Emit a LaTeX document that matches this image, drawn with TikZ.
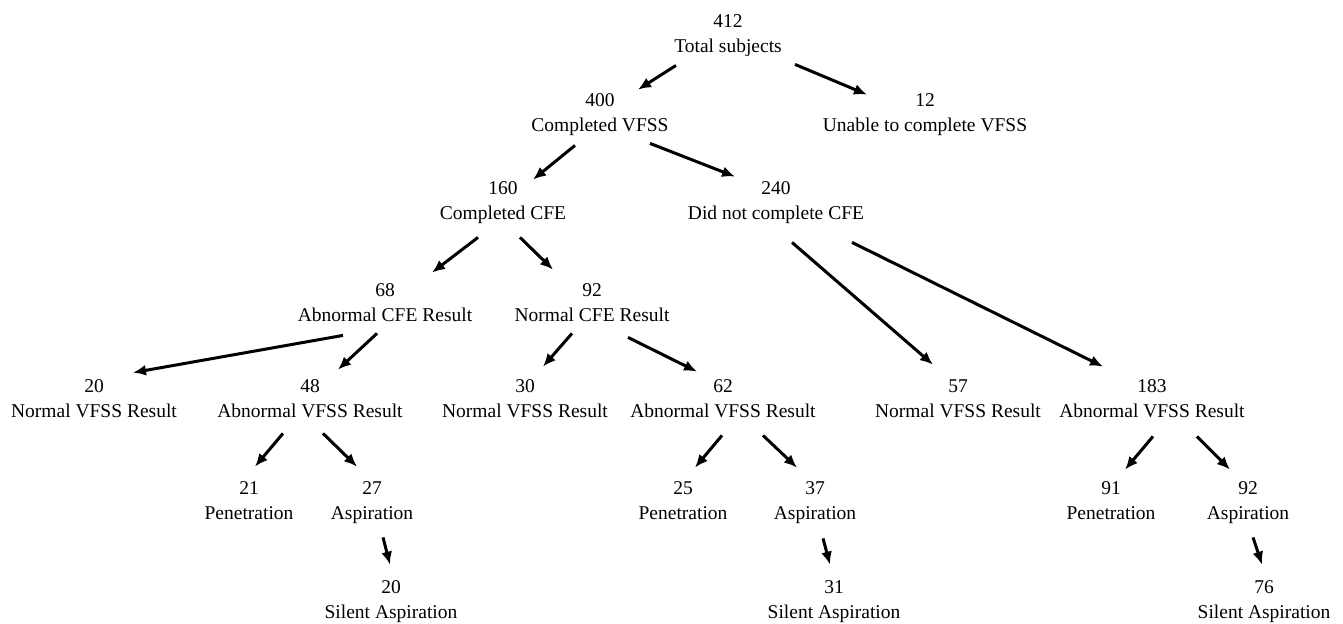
\documentclass[tikz,border=0pt]{standalone}
\usepackage{fontspec}
\setmainfont{Liberation Serif}
\usepackage{tikz}
\usetikzlibrary{arrows.meta,calc}
\newcommand{\twoline}[2]{\strut#1\\\strut#2}

\begin{document}
\begin{tikzpicture}[
        x=0.5pt, y=-0.5pt,
        count/.style={align=center, inner sep=0pt, font=\fontsize{9.75}{12.5}\selectfont},
        arrow/.style={line width=1.5pt, ->, >={Latex[length=6.5pt,width=5.5pt]}, color=black}
    ]
        \useasboundingbox (0,0) rectangle (1343,623);

        % Top levels
        \node[count] (tot) at (728,35) {\twoline{412}{Total subjects}};
        \node[count] (vfss) at (600,114) {\twoline{400}{Completed VFSS}};
        \node[count] (unable) at (925,114) {\twoline{12}{Unable to complete VFSS}};
        \node[count] (cfe) at (503,202) {\twoline{160}{Completed CFE}};
        \node[count] (nocfe) at (776,202) {\twoline{240}{Did not complete CFE}};
        \node[count] (abcfe) at (385,304) {\twoline{68}{Abnormal CFE Result}};
        \node[count] (normcfe) at (592,304) {\twoline{92}{Normal CFE Result}};

        % VFSS results
        \node[count] (nv1) at (94,400) {\twoline{20}{Normal VFSS Result}};
        \node[count] (av1) at (310,400) {\twoline{48}{Abnormal VFSS Result}};
        \node[count] (nv2) at (525,400) {\twoline{30}{Normal VFSS Result}};
        \node[count] (av2) at (723,400) {\twoline{62}{Abnormal VFSS Result}};
        \node[count] (nv3) at (958,400) {\twoline{57}{Normal VFSS Result}};
        \node[count] (av3) at (1152,400) {\twoline{183}{Abnormal VFSS Result}};

        % Penetration / Aspiration
        \node[count] (pen1) at (249,502) {\twoline{21}{Penetration}};
        \node[count] (asp1) at (372,502) {\twoline{27}{Aspiration}};
        \node[count] (pen2) at (683,502) {\twoline{25}{Penetration}};
        \node[count] (asp2) at (815,502) {\twoline{37}{Aspiration}};
        \node[count] (pen3) at (1111,502) {\twoline{91}{Penetration}};
        \node[count] (asp3) at (1248,502) {\twoline{92}{Aspiration}};

        % Silent aspiration
        \node[count] (sil1) at (391,601) {\twoline{20}{Silent Aspiration}};
        \node[count] (sil2) at (834,601) {\twoline{31}{Silent Aspiration}};
        \node[count] (sil3) at (1264,601) {\twoline{76}{Silent Aspiration}};

        % Flows - top
        \draw[arrow] ($(tot.south)+(-52,5)$) -- ($(vfss.north)+(38,1)$);
        \draw[arrow] ($(tot.south)+(67,4)$) -- ($(unable.north)+(-58,6)$);
        \draw[arrow] ($(vfss.south)+(-25,6)$) -- ($(cfe.north)+(30,3)$);
        \draw[arrow] ($(vfss.south)+(50,4)$) -- ($(nocfe.north)+(-41,0)$);
        \draw[arrow] ($(cfe.south)+(-25,10)$) -- ($(abcfe.north)+(47,-6)$);
        \draw[arrow] ($(cfe.south)+(17,10)$) -- ($(normcfe.north)+(-39,-9)$);

        % Flows - CFE to VFSS result
        \draw[arrow] ($(abcfe.south)+(-42,6)$) -- ($(nv1.north)+(39,-2)$);
        \draw[arrow] ($(abcfe.south)+(-8,4)$) -- ($(av1.north)+(28,-5)$);
        \draw[arrow] ($(normcfe.south)+(-20,4)$) -- ($(nv2.north)+(18,-8)$);
        \draw[arrow] ($(normcfe.south)+(36,8)$) -- ($(av2.north)+(-26,-3)$);
        \draw[arrow] ($(nocfe.south)+(16,15)$) -- ($(nv3.north)+(-25,-10)$);
        \draw[arrow] ($(nocfe.south)+(76,15)$) -- ($(av3.north)+(-49,-8)$);

        % Flows - abnormal VFSS
        \draw[arrow] ($(av1.south)+(-27,8)$) -- ($(pen1.north)+(6,-10)$);
        \draw[arrow] ($(av1.south)+(13,8)$) -- ($(asp1.north)+(-15,-10)$);
        \draw[arrow] ($(av2.south)+(-1,10)$) -- ($(pen2.north)+(12,-9)$);
        \draw[arrow] ($(av2.south)+(40,10)$) -- ($(asp2.north)+(-18,-9)$);
        \draw[arrow] ($(av3.south)+(1,11)$) -- ($(pen3.north)+(14,-7)$);
        \draw[arrow] ($(av3.south)+(45,11)$) -- ($(asp3.north)+(-18,-7)$);

        % Flows - silent aspiration
        \draw[arrow] ($(asp1.south)+(11,10)$) -- ($(sil1.north)+(-1,-11)$);
        \draw[arrow] ($(asp2.south)+(8,11)$) -- ($(sil2.north)+(-4,-11)$);
        \draw[arrow] ($(asp3.south)+(5,10)$) -- ($(sil3.north)+(-2,-11)$);
    \end{tikzpicture}
\end{document}
